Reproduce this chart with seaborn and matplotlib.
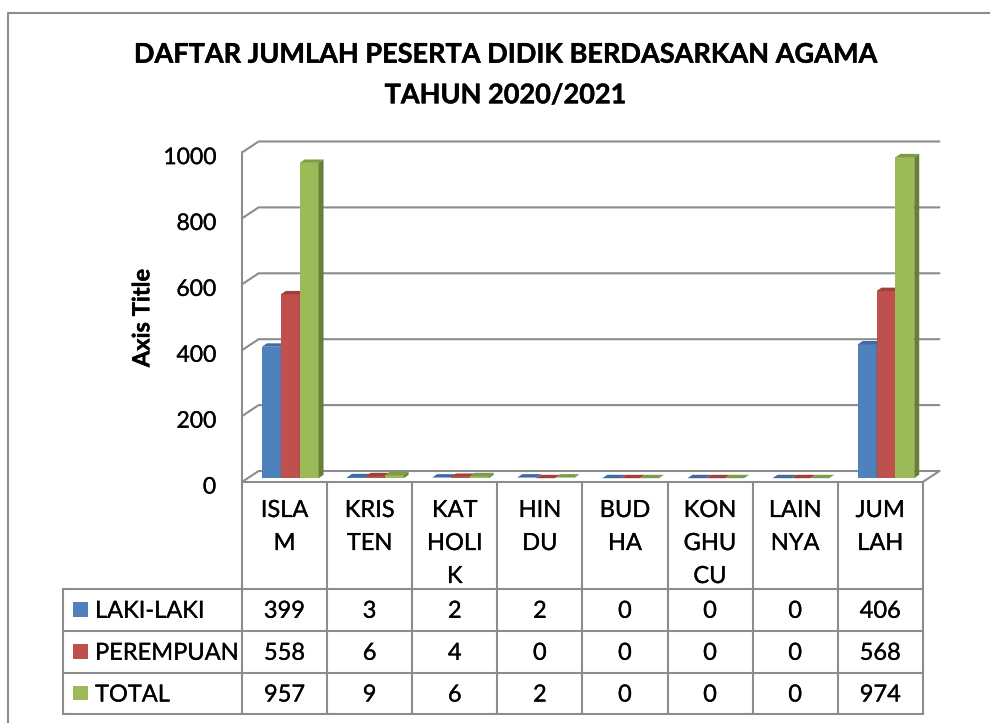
import numpy as np
import pandas as pd
import matplotlib
matplotlib.use("Agg")
import matplotlib.pyplot as plt
import matplotlib.patheffects as pe
import seaborn as sns
from matplotlib.patches import Polygon, Rectangle

# ---------------- data ----------------
categories = ["ISLAM", "KRISTEN", "KATHOLIK", "HINDU", "BUDHA", "KONGHUCU", "LAINNYA", "JUMLAH"]
category_labels = ["ISLA\nM", "KRIS\nTEN", "KAT\nHOLI\nK", "HIN\nDU", "BUD\nHA",
                   "KON\nGHU\nCU", "LAIN\nNYA", "JUM\nLAH"]
series = ["LAKI-LAKI", "PEREMPUAN", "TOTAL"]
laki_laki = [399, 3, 2, 2, 0, 0, 0, 406]
perempuan = [558, 6, 4, 0, 0, 0, 0, 568]
total = [957, 9, 6, 2, 0, 0, 0, 974]
y_ticks = [0, 200, 400, 600, 800, 1000]
title_lines = ["DAFTAR JUMLAH PESERTA DIDIK BERDASARKAN AGAMA", "TAHUN 2020/2021"]
y_label = "Axis Title"

# ---------------- style ----------------
colors = ["#4F81BD", "#C0504D", "#9BBB59"]
top_colors = ["#3F6BA2", "#A0403D", "#7E9C47"]
side_colors = ["#385D8A", "#8C3836", "#687F38"]
grid_color = "#8C8C8C"
text_color = "#000000"

sns.set_theme(style="white")
plt.rcParams["font.family"] = ["Lato", "DejaVu Sans"]

W, H = 990, 723
fig = plt.figure(figsize=(W / 100, H / 100), dpi=100)
fig.patch.set_facecolor("white")

ov = fig.add_axes([0, 0, 1, 1], zorder=0)
ov.set_xlim(0, W)
ov.set_ylim(H, 0)
ov.axis("off")

# bar plane geometry (pixels)
left_px, zero_px, cat_px, unit_px = 247.7, 478.2, 85.1, 0.3295
ax = fig.add_axes([left_px / W, (H - zero_px) / H, 8 * cat_px / W, 1000 * unit_px / H], zorder=1)
ax.patch.set_visible(False)

df = pd.DataFrame({
    "cat": categories * 3,
    "series": np.repeat(series, len(categories)),
    "value": laki_laki + perempuan + total,
})
sns.barplot(data=df, x="cat", y="value", hue="series", order=categories, hue_order=series,
            palette=colors, saturation=1, width=0.665, ax=ax, legend=False,
            linewidth=0, errorbar=None)
ax.set_xlim(-0.5, 7.5)
ax.set_ylim(0, 1000)
for s in ax.spines.values():
    s.set_visible(False)
ax.set_xticks([])
ax.set_yticks([])
ax.set_xlabel("")
ax.set_ylabel("")

FRONT = (-5.7, 3.8)
BACK = (10.9, -7.2)


def P(x, y, off=(0, 0)):
    d = ax.transData.transform((x, y))
    return d[0] + off[0], H - d[1] + off[1]


lw = 1.5
# walls / gridlines
for v in y_ticks:
    f = P(-0.5, v, FRONT)
    b = P(-0.5, v, BACK)
    br = P(7.5, v, BACK)
    ov.plot([f[0], b[0], br[0]], [f[1], b[1], br[1]], color=grid_color, lw=lw,
            solid_joinstyle="miter", zorder=1)
f0 = P(-0.5, 0, FRONT)
f1 = P(-0.5, 1000, FRONT)
ov.plot([f0[0], f1[0]], [f0[1], f1[1]], color=grid_color, lw=lw, zorder=1)
fr = P(7.5, 0, FRONT)
br0 = P(7.5, 0, BACK)
ov.plot([f0[0], fr[0], br0[0]], [f0[1], fr[1], br0[1]], color=grid_color, lw=lw,
        solid_joinstyle="miter", zorder=1)

# 3D faces for the bars
ddx = 5.0 / cat_px
ddy = 3.4 / unit_px
hexes = [matplotlib.colors.to_hex(c).lower() for c in colors]
for p in ax.patches:
    if not isinstance(p, Rectangle):
        continue
    fc = matplotlib.colors.to_hex(p.get_facecolor()).lower()
    if fc not in hexes:
        continue
    si = hexes.index(fc)
    x0, w, h = p.get_x(), p.get_width(), p.get_height()
    z = 2 + si
    p.set_zorder(z)
    p.set_clip_on(False)
    top = Polygon([(x0, h), (x0 + w, h), (x0 + w + ddx, h + ddy), (x0 + ddx, h + ddy)],
                  closed=True, facecolor=top_colors[si], edgecolor="none", zorder=z + 0.5,
                  clip_on=False)
    side = Polygon([(x0 + w, 0), (x0 + w + ddx, ddy), (x0 + w + ddx, h + ddy), (x0 + w, h)],
                   closed=True, facecolor=side_colors[si], edgecolor="none", zorder=z + 0.5,
                   clip_on=False)
    ax.add_patch(top)
    ax.add_patch(side)

heavy = [pe.withStroke(linewidth=0.2, foreground=text_color)]
heavy_b = [pe.withStroke(linewidth=0.3, foreground=text_color)]

# y tick labels (front plane)
for v in y_ticks:
    fx, fy = P(-0.5, v, FRONT)
    ov.text(216, fy + 11.6, f"{v}", ha="right", va="baseline", fontsize=16.5,
            color=text_color, path_effects=heavy)

# axis title
ov.text(149.3, 318, y_label, rotation=90, rotation_mode="anchor", ha="center",
        va="baseline", fontsize=17, fontweight="bold", color=text_color, path_effects=heavy_b)

# title
ov.text(505.5, 62.7, title_lines[0], ha="center", va="baseline", fontsize=19.5,
        fontweight="bold", color=text_color, path_effects=heavy_b)
ov.text(505.5, 103.3, title_lines[1], ha="center", va="baseline", fontsize=19.5,
        fontweight="bold", color=text_color, path_effects=heavy_b)

# data table
col_x = [P(-0.5 + i, 0, FRONT)[0] for i in range(len(categories) + 1)]
top_y = P(-0.5, 0, FRONT)[1]
row_y = [588.5, 630.5, 672.5, 714.0]
legend_left = 63.3
tcol = grid_color
for x in col_x:
    ov.plot([x, x], [top_y, row_y[-1]], color=tcol, lw=lw, zorder=1)
for y in row_y:
    ov.plot([legend_left, col_x[-1]], [y, y], color=tcol, lw=lw, zorder=1)
ov.plot([legend_left, legend_left], [row_y[0], row_y[-1]], color=tcol, lw=lw, zorder=1)

for i, lab in enumerate(category_labels):
    cx = (col_x[i] + col_x[i + 1]) / 2
    for j, line in enumerate(lab.split("\n")):
        ov.text(cx, 517.0 + 33.0 * j, line, ha="center", va="baseline", fontsize=17,
                color=text_color, path_effects=heavy)

rows = [laki_laki, perempuan, total]
for r, (name, vals) in enumerate(zip(series, rows)):
    yc = (row_y[r] + row_y[r + 1]) / 2
    ov.add_patch(Rectangle((73.3, yc - 7.2), 14.4, 14.4, facecolor=colors[r],
                           edgecolor="none", zorder=2))
    ov.text(95, yc + 8.3, name, ha="left", va="baseline", fontsize=17, color=text_color,
            path_effects=heavy)
    for i, v in enumerate(vals):
        cx = (col_x[i] + col_x[i + 1]) / 2
        ov.text(cx, yc + 8.3, f"{v}", ha="center", va="baseline", fontsize=17,
                color=text_color, path_effects=heavy)

# outer chart border (only top/left visible)
ov.plot([8, 8, W], [H, 13, 13], color=grid_color, lw=lw, zorder=1)

fig.savefig("out.png", dpi=100)
